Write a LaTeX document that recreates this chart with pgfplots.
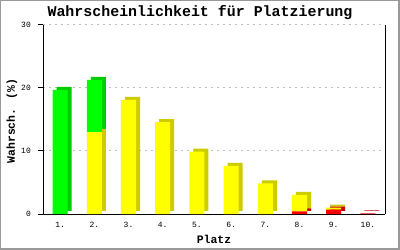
\documentclass[border=0pt]{standalone}
\usepackage{fontspec}
\setmainfont{Liberation Mono}
\usepackage{pgfplots}
\pgfplotsset{compat=1.18}
\usepackage{pgfplotstable}

\definecolor{gfront}{HTML}{00FF00}
\definecolor{gside}{HTML}{00CC00}
\definecolor{yfront}{HTML}{FFFF00}
\definecolor{yside}{HTML}{CCCC00}
\definecolor{rfront}{HTML}{FF0000}
\definecolor{rside}{HTML}{CC0000}
\definecolor{framegray}{HTML}{999999}
\definecolor{gridgray}{HTML}{C0C0C0}

\pgfplotstableread{
x red yellow green
1 0   0     19.7
2 0   13.0  8.3
3 0   18.1  0
4 0   14.6  0
5 0   9.9   0
6 0   7.65  0
7 0   4.85  0
8 0.4 2.65  0
9 0.7 0.3   0
10 0.1 0    0
}\datatable

\pgfplotsset{
  myaxis/.style={
    width=342bp, height=189bp, scale only axis,
    at={(43bp,36bp)}, anchor=south west,
    xmin=0.5, xmax=10.5, ymin=0, ymax=30,
    ybar stacked, bar width=0.44,
    clip=false,
  }
}

\begin{document}
\begin{tikzpicture}
\fill[framegray] (0bp,0bp) rectangle (400bp,250bp);
\fill[white] (1bp,2bp) rectangle (398bp,249bp);

\begin{axis}[myaxis,
  axis x line*=bottom,
  ytick pos=left,
  axis line style={line width=1bp, black},
  ymajorgrids,
  grid style={gridgray, line width=1bp, dash pattern=on 2bp off 4bp},
  xtick={1,2,3,4,5,6,7,8,9,10},
  xticklabels={1.,2.,3.,4.,5.,6.,7.,8.,9.,10.},
  xtick style={draw=none},
  ytick={0,10,20,30},
  ytick style={line width=1bp, black},
  major tick length=5bp,
  tick align=outside,
  /pgf/number format/assume math mode=true,
  tick label style={font=\fontsize{8}{8}\selectfont, inner sep=0pt},
  xticklabel style={anchor=center, yshift=-6bp},
  yticklabel style={anchor=east, xshift=-7bp},
]
\addplot[fill=rside, draw=none, xshift=4bp, yshift=3bp] table[x=x, y=red] {\datatable};
\addplot[fill=yside, draw=none, xshift=4bp, yshift=3bp] table[x=x, y=yellow] {\datatable};
\addplot[fill=gside, draw=none, xshift=4bp, yshift=3bp] table[x=x, y=green] {\datatable};
\end{axis}

\begin{axis}[myaxis, hide axis]
\addplot[fill=rfront, draw=none] table[x=x, y=red] {\datatable};
\addplot[fill=yfront, draw=none] table[x=x, y=yellow] {\datatable};
\addplot[fill=gfront, draw=none] table[x=x, y=green] {\datatable};
\end{axis}

\node[font=\fontsize{15}{15}\selectfont\bfseries] at (200bp,237bp) {Wahrscheinlichkeit für Platzierung};
\node[rotate=90, font=\fontsize{11.5}{12}\selectfont\bfseries] at (12bp,129bp) {Wahrsch. (\%)};
\node[font=\fontsize{11.5}{12}\selectfont\bfseries] at (214bp,11bp) {Platz};
\end{tikzpicture}
\end{document}
